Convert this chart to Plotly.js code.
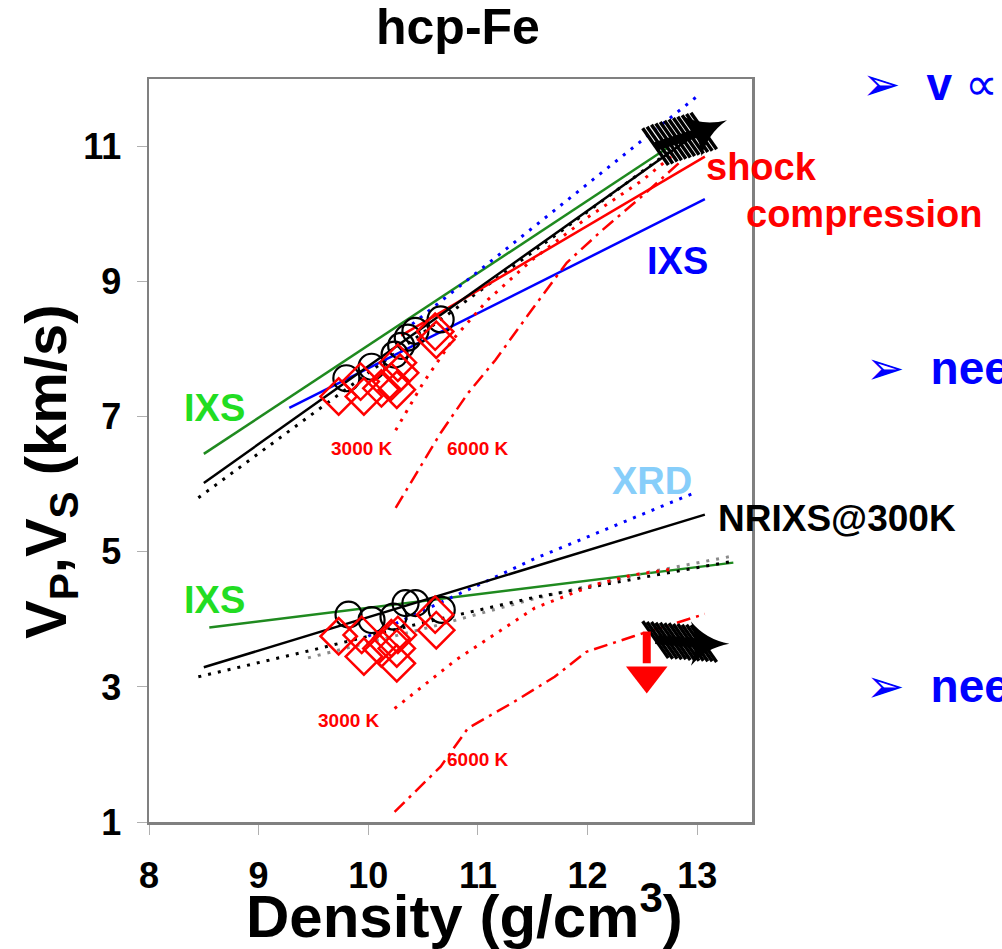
<!DOCTYPE html>
<html><head><meta charset="utf-8">
<script src="https://cdn.plot.ly/plotly-3.0.1.min.js"></script>
<style>body{margin:0;background:#fff}</style>
</head><body><div id="chart" style="width:1002px;height:949px"></div>
<script>
const FONT = 'Liberation Sans, Arial, Helvetica, sans-serif';
const xTicks = [8, 9, 10, 11, 12, 13];
const yTicks = [1, 3, 5, 7, 9, 11];

// ---- Vp branch ----
const ixsGreenVpX = [8.5, 12.72];
const ixsGreenVpY = [6.45, 10.97];
const nrixsVpX = [8.5, 13.0];
const nrixsVpY = [6.02, 11.2];
const blackDotVpX = [8.45, 12.75];
const blackDotVpY = [5.8, 10.93];
const xrdVpX = [10.4, 13.02];
const xrdVpY = [8.37, 11.77];
const ixsBlueVpX = [9.28, 13.07];
const ixsBlueVpY = [7.13, 10.22];
const shockVpX = [10.3, 13.07];
const shockVpY = [8.2, 10.85];
const t3000VpX = [10.25, 10.5, 10.77, 11.09, 11.5, 12.0, 12.5, 12.8];
const t3000VpY = [6.8, 7.5, 8.14, 8.73, 9.33, 9.95, 10.5, 10.9];
const t6000VpX = [10.25, 10.44, 10.66, 10.91, 11.16, 11.45, 11.81, 12.14, 12.53, 12.85];
const t6000VpY = [5.65, 6.17, 6.76, 7.35, 7.84, 8.49, 9.28, 9.77, 10.31, 10.78];
const circVpX = [9.80, 10.03, 10.24, 10.30, 10.36, 10.43, 10.66];
const circVpY = [7.57, 7.74, 7.92, 8.05, 8.17, 8.27, 8.44];
const diamVpX = [9.73, 9.93, 9.96, 10.12, 10.21, 10.26, 10.27, 10.29, 10.61, 10.62];
const diamVpY = [7.30, 7.52, 7.30, 7.42, 7.52, 7.40, 7.80, 7.65, 8.26, 8.14];
const shockPtsVpX = [12.62, 12.66, 12.70, 12.74, 12.78, 12.82, 12.86, 12.90, 12.94, 12.98, 13.02, 13.06];
const shockPtsVpY = [11.00, 11.02, 11.05, 11.07, 11.09, 11.11, 11.13, 11.15, 11.17, 11.19, 11.21, 11.23];

// ---- Vs branch ----
const ixsGreenVsX = [8.55, 13.33];
const ixsGreenVsY = [3.88, 4.84];
const nrixsVsX = [8.5, 13.07];
const nrixsVsY = [3.29, 5.55];
const blackDotVsX = [8.45, 9.5, 10.5, 11.5, 12.5, 13.33];
const blackDotVsY = [3.15, 3.55, 3.95, 4.32, 4.62, 4.86];
const grayDotVsX = [9.45, 10.6, 11.5, 12.5, 13.3];
const grayDotVsY = [3.43, 3.9, 4.3, 4.68, 4.93];
const xrdVsX = [10.0, 11.52, 12.97];
const xrdVsY = [3.75, 4.9, 5.87];
const t3000VsX = [10.24, 10.8, 11.52, 12.06, 12.42, 12.8];
const t3000VsY = [2.68, 3.40, 4.17, 4.51, 4.66, 4.75];
const t6000VsX = [10.24, 10.66, 10.91, 11.31, 11.70, 11.99, 12.42, 13.07];
const t6000VsY = [1.15, 1.82, 2.39, 2.76, 3.15, 3.52, 3.75, 4.08];
const circVsX = [9.82, 10.03, 10.23, 10.34, 10.43, 10.67];
const circVsY = [4.07, 3.99, 4.04, 4.24, 4.24, 4.14];
const diamVsX = [9.73, 9.94, 9.96, 10.12, 10.21, 10.26, 10.26, 10.27, 10.61, 10.62];
const diamVsY = [3.75, 3.77, 3.45, 3.57, 3.72, 3.57, 3.35, 3.77, 4.07, 3.84];
const shockPtsVsX = [12.62, 12.66, 12.70, 12.74, 12.78, 12.82, 12.86, 12.90, 12.94, 12.98, 13.02, 13.06];
const shockPtsVsY = [3.70, 3.69, 3.69, 3.68, 3.68, 3.67, 3.67, 3.66, 3.66, 3.65, 3.65, 3.64];

// red "down" arrow
const arrowX = [12.54, 12.54];
const arrowY = [3.82, 3.35];
const arrowHeadX = [12.54];
const arrowHeadY = [3.17];

const RED = '#ff0000', BLUE = '#0000ff', GREEN = '#1f8a1f', BLACK = '#000000', GRAY = '#8a8a8a';
const DOT = '3px,7px';
const DASHDOT = '14px,6px,3px,6px';

function line(x, y, color, dash, width) {
  return {x, y, type: 'scatter', mode: 'lines', hoverinfo: 'skip',
    line: {color, dash: dash || 'solid', width: width || 2.5}};
}
function pts(x, y, symbol, size, color, width) {
  return {x, y, type: 'scatter', mode: 'markers', hoverinfo: 'skip',
    marker: {symbol, size, color, line: {width, color}}};
}
const traces = [
  line(ixsGreenVpX, ixsGreenVpY, GREEN),
  line(blackDotVpX, blackDotVpY, BLACK, DOT, 3),
  line(xrdVpX, xrdVpY, BLUE, DOT, 3),
  line(ixsBlueVpX, ixsBlueVpY, BLUE),
  line(shockVpX, shockVpY, RED),
  line(t3000VpX, t3000VpY, RED, DOT, 3),
  line(t6000VpX, t6000VpY, RED, DASHDOT, 2.5),
  line(nrixsVpX, nrixsVpY, BLACK),
  line(ixsGreenVsX, ixsGreenVsY, GREEN),
  line(grayDotVsX, grayDotVsY, GRAY, DOT, 3),
  line(blackDotVsX, blackDotVsY, BLACK, DOT, 3),
  line(xrdVsX, xrdVsY, BLUE, DOT, 3),
  line(t3000VsX, t3000VsY, RED, DOT, 3),
  line(t6000VsX, t6000VsY, RED, DASHDOT, 2.5),
  line(nrixsVsX, nrixsVsY, BLACK),
  pts(circVpX, circVpY, 'circle-open', 26, BLACK, 2.2),
  pts(circVsX, circVsY, 'circle-open', 26, BLACK, 2.2),
  pts(diamVpX, diamVpY, 'diamond-open', 28, RED, 2.5),
  pts(diamVsX, diamVsY, 'diamond-open', 28, RED, 2.5),
  // shock data clusters (fishbone-like)
  {x: shockPtsVpX, y: shockPtsVpY, mode: 'lines+markers', type: 'scatter', hoverinfo: 'skip',
   line: {color: BLACK, width: 9},
   marker: {symbol: 'line-ns', size: 32, angle: -35, color: BLACK, line: {width: 3.5, color: BLACK}}},
  {x: shockPtsVsX, y: shockPtsVsY, mode: 'lines+markers', type: 'scatter', hoverinfo: 'skip',
   line: {color: BLACK, width: 9},
   marker: {symbol: 'line-ns', size: 32, angle: -35, color: BLACK, line: {width: 3.5, color: BLACK}}},
  {x: [shockPtsVpX[shockPtsVpX.length - 1]], y: [shockPtsVpY[shockPtsVpY.length - 1]], mode: 'markers', type: 'scatter', hoverinfo: 'skip',
   marker: {symbol: 'star-triangle-up', size: 32, angle: 65, color: BLACK}},
  {x: [shockPtsVsX[shockPtsVsX.length - 1]], y: [shockPtsVsY[shockPtsVsY.length - 1]], mode: 'markers', type: 'scatter', hoverinfo: 'skip',
   marker: {symbol: 'star-triangle-up', size: 32, angle: 90, color: BLACK}},
  // red arrow
  {x: arrowX, y: arrowY, mode: 'lines', type: 'scatter', hoverinfo: 'skip', line: {color: RED, width: 8}},
  {x: arrowHeadX, y: arrowHeadY, mode: 'markers', type: 'scatter', hoverinfo: 'skip',
   marker: {symbol: 'triangle-down', size: 36, color: RED}}
];

function ann(text, x, y, color, size, extra) {
  return Object.assign({text: '<b>' + text + '</b>', x, y, xref: 'x', yref: 'y', showarrow: false,
    font: {family: FONT, size, color}, xanchor: 'center', yanchor: 'middle'}, extra || {});
}
const P = (px) => (px - 149) / 603;
const Q = (py) => (822 - py) / 743;

const annotations = [
  ann('IXS', 8.6, 7.13, '#22dd22', 38),
  ann('IXS', 8.6, 4.29, '#22dd22', 38),
  ann('IXS', 12.82, 9.30, BLUE, 38),
  ann('XRD', 12.59, 6.05, '#87cefa', 38),
  ann('NRIXS@300K', 13.17, 5.50, BLACK, 37, {xanchor: 'left'}),
  ann('shock', 13.06, 10.69, RED, 38, {xanchor: 'left'}),
  ann('compression', 13.43, 10.0, RED, 38, {xanchor: 'left'}),
  ann('3000 K', 9.94, 6.53, RED, 19),
  ann('3000 K', 9.82, 2.51, RED, 19),
  ann('6000 K', 11.0, 6.53, RED, 19),
  ann('6000 K', 11.0, 1.92, RED, 19),
  {text: '<b>hcp-Fe</b>', xref: 'paper', yref: 'paper', x: P(458), y: Q(27), showarrow: false,
   font: {family: FONT, size: 50, color: BLACK}, xanchor: 'center', yanchor: 'middle'},
  {text: '<b>Density (g/cm<sup>3</sup>)</b>', xref: 'paper', yref: 'paper', x: P(465), y: Q(912), showarrow: false,
   font: {family: FONT, size: 60, color: BLACK}, xanchor: 'center', yanchor: 'middle'},
  {text: '<b>V<sub>P</sub>,V<sub>S</sub> (km/s)</b>', xref: 'paper', yref: 'paper', x: P(50), y: Q(472), showarrow: false,
   textangle: -90, font: {family: FONT, size: 58, color: BLACK}, xanchor: 'center', yanchor: 'middle'},
  {text: '➢  <b>v</b> ∝', xref: 'paper', yref: 'paper', x: P(860), y: Q(84), showarrow: false,
   font: {family: FONT, size: 46, color: BLUE}, xanchor: 'left', yanchor: 'middle'},
  {text: '➢  <b>nee</b>', xref: 'paper', yref: 'paper', x: P(864), y: Q(368), showarrow: false,
   font: {family: FONT, size: 46, color: BLUE}, xanchor: 'left', yanchor: 'middle'},
  {text: '➢  <b>nee</b>', xref: 'paper', yref: 'paper', x: P(864), y: Q(686), showarrow: false,
   font: {family: FONT, size: 46, color: BLUE}, xanchor: 'left', yanchor: 'middle'}
];

const axisCommon = {
  showgrid: false, zeroline: false, showline: true, mirror: true,
  linecolor: '#808080', linewidth: 2.5, ticks: 'outside', ticklen: 10, tickwidth: 1,
  tickcolor: '#b0b0b0', tickfont: {family: FONT, size: 36, color: BLACK}
};
const layout = {
  width: 1002, height: 949, showlegend: false,
  paper_bgcolor: '#ffffff', plot_bgcolor: '#ffffff',
  margin: {l: 149, r: 250, t: 79, b: 127},
  xaxis: Object.assign({}, axisCommon, {range: [8, 13.5], tickvals: xTicks, ticktext: xTicks.map(v => '<b>' + v + '</b>'), ticklabelstandoff: 10}),
  yaxis: Object.assign({}, axisCommon, {range: [1, 12], tickvals: yTicks, ticktext: yTicks.map(v => '<b>' + v + '</b>'), ticklabelstandoff: 8}),
  annotations
};
Plotly.newPlot('chart', traces, layout, {staticPlot: true});
</script></body></html>
